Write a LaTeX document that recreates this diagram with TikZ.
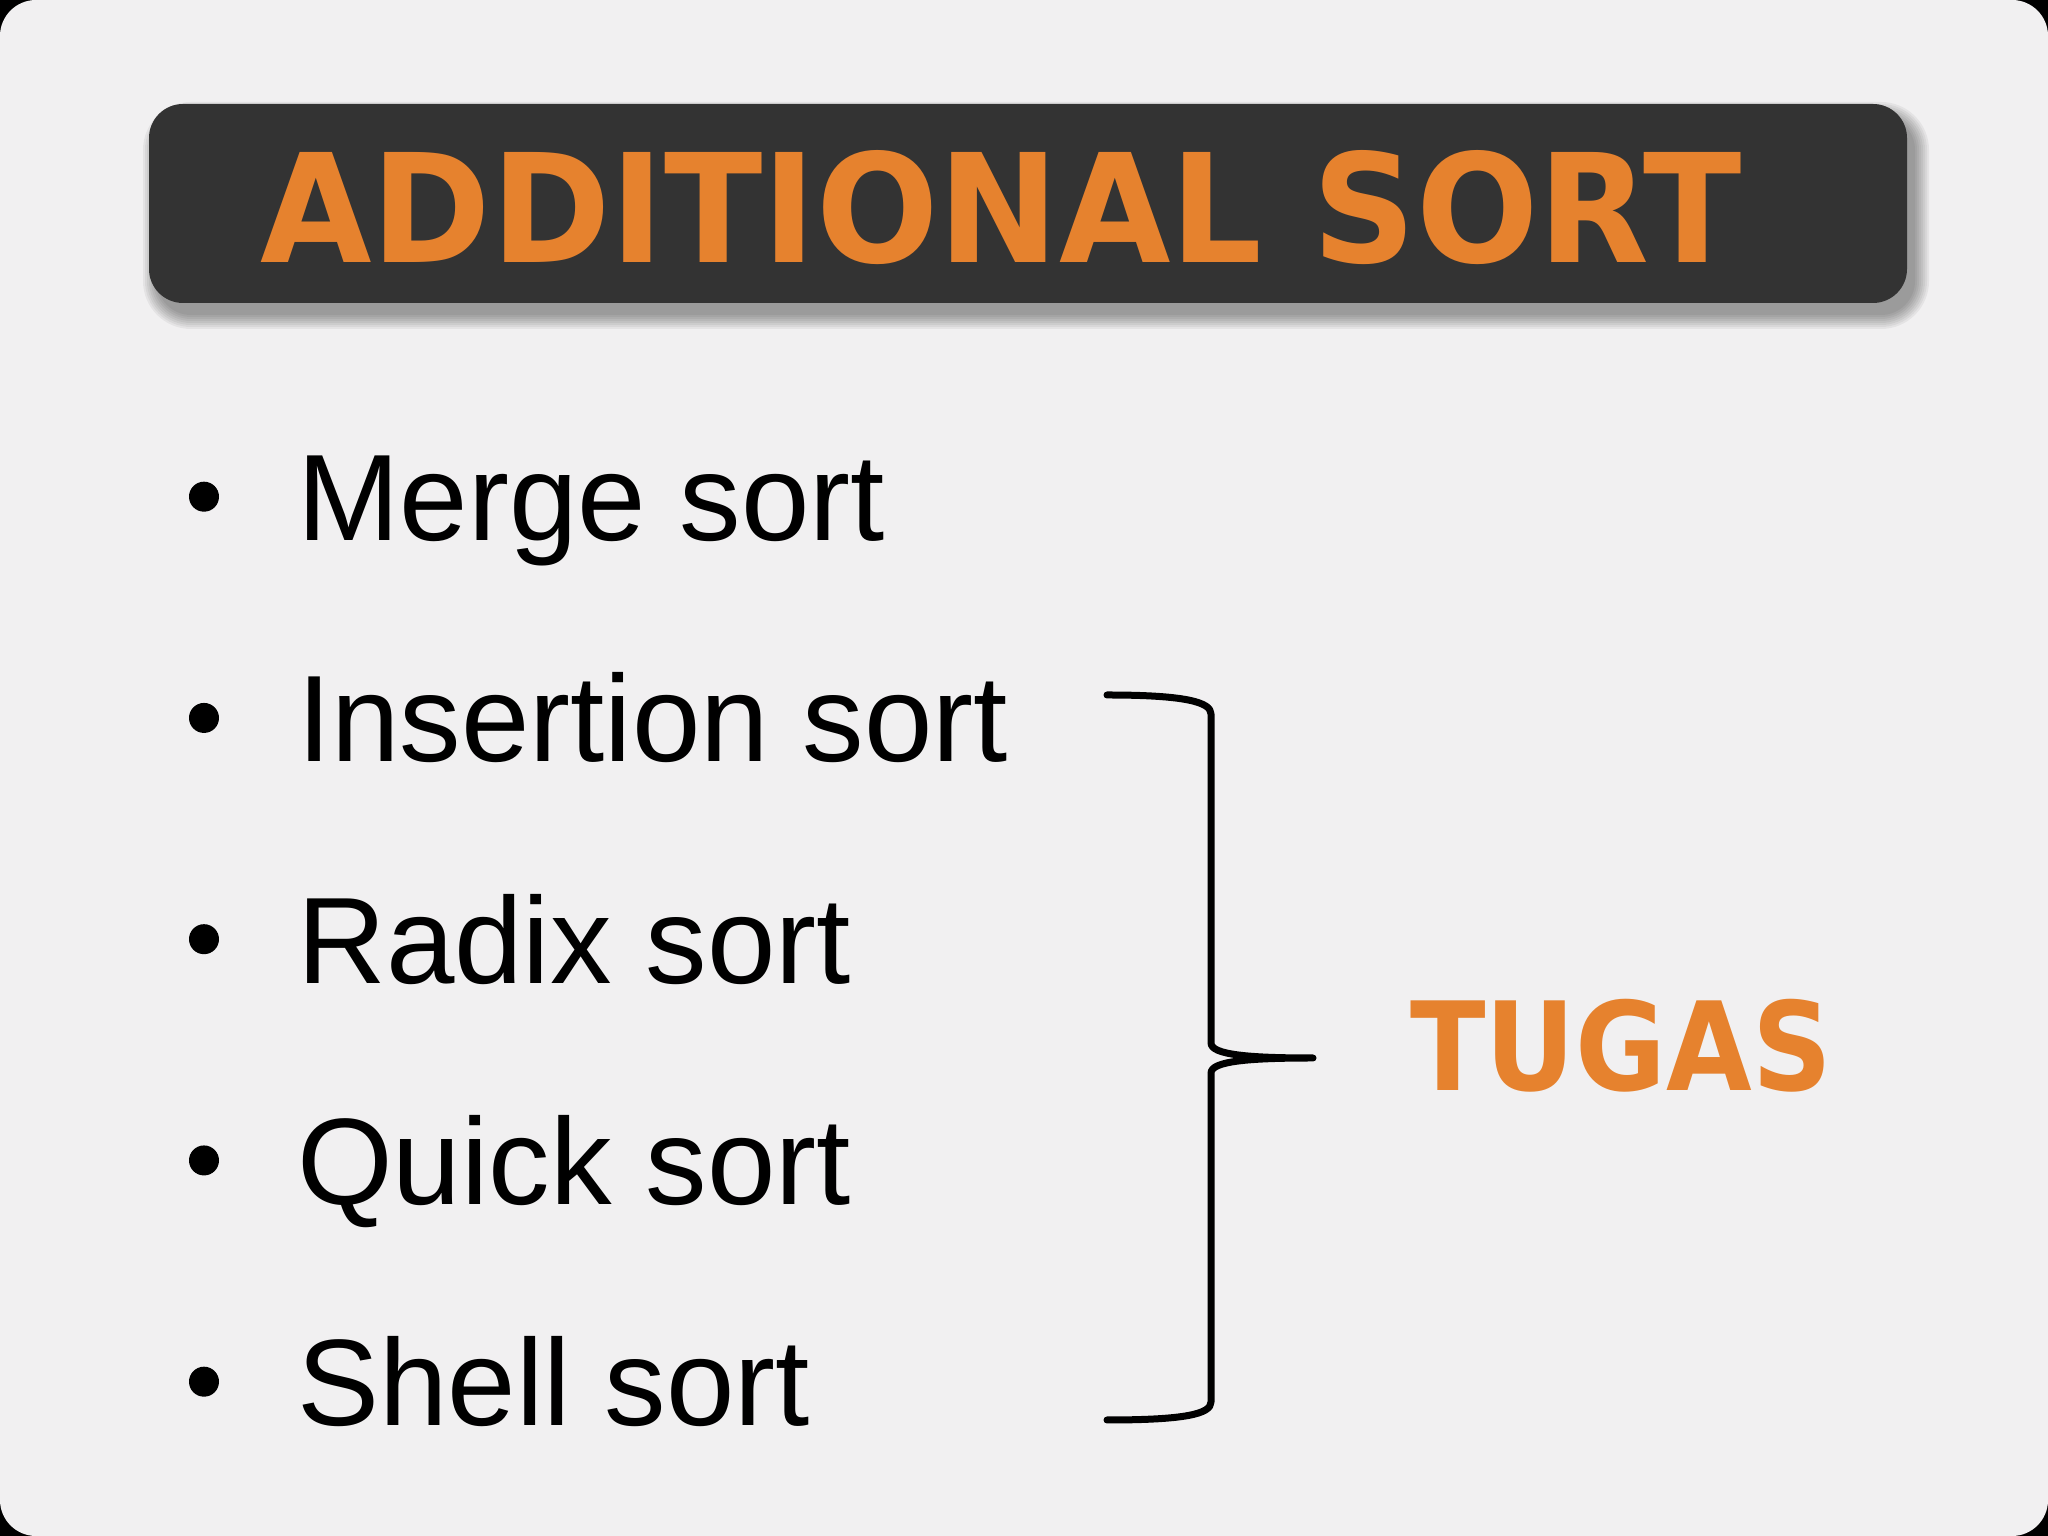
\documentclass[tikz,border=0pt]{standalone}
\usepackage{fontspec}
\setmainfont{Liberation Sans}
\newfontfamily\headfont{DejaVu Sans}
\definecolor{sortorange}{HTML}{E6822E}
\definecolor{bardark}{HTML}{333333}
\definecolor{slidebg}{HTML}{F1F0F1}
\begin{document}
\begin{tikzpicture}[x=1pt,y=1pt,
    titlebar/.style={fill=bardark, rounded corners=34pt},
    itemtext/.style={anchor=base west, inner sep=0pt, font=\fontsize{123}{140}\selectfont},
    bulletdot/.style={circle, fill=black, inner sep=0pt, minimum size=30pt},
    headtext/.style={inner sep=0pt, text=sortorange, font=\headfont\bfseries}]
        \useasboundingbox (0,0) rectangle (2048,1536);
        \fill[black] (0,0) rectangle (2048,1536);
        \fill[slidebg, rounded corners=36pt] (0,0) rectangle (2048,1536);
        % soft shadow under the title bar
        \foreach \k in {0,2,...,14}
            \fill[black, opacity=.05, rounded corners={34pt+\k pt}] ({157-\k},{1221-\k}) rectangle ({1915+\k},{1420+\k});
        \fill[titlebar] (149,1233) rectangle (1907,1432);
        \node[headtext, anchor=base] (title) at (1001,1273.5) {\fontsize{151}{170}\selectfont\scalebox{0.954}[1]{ADDITIONAL SORT}};
        % list
        \foreach \i/\txt in {1/Merge sort, 2/Insertion sort, 3/Radix sort, 4/Quick sort, 5/Shell sort} {
            \node[itemtext] (item\i) at (297,{995.3-221.25*(\i-1)}) {\txt};
            \node[bulletdot] (b\i) at (204,{1039.3-221.25*(\i-1)}) {};
        }
        % brace
        \coordinate (bt) at (1107,841); \coordinate (tip) at (1313,478); \coordinate (bb) at (1107,116);
        \draw[line width=7pt, line cap=round, line join=round] (bt) .. controls (1185,841) and (1211,834) .. (1211,822) -- (1211,493)
            .. controls (1211,481) and (1250,478) .. (tip) .. controls (1250,478) and (1211,475) .. (1211,463) -- (1211,134)
            .. controls (1211,122) and (1185,116) .. (bb);
        \node[headtext, anchor=base] (tugas) at (1621,445.5) {\fontsize{123}{140}\selectfont\scalebox{0.90}[1]{TUGAS}};
\end{tikzpicture}
\end{document}
